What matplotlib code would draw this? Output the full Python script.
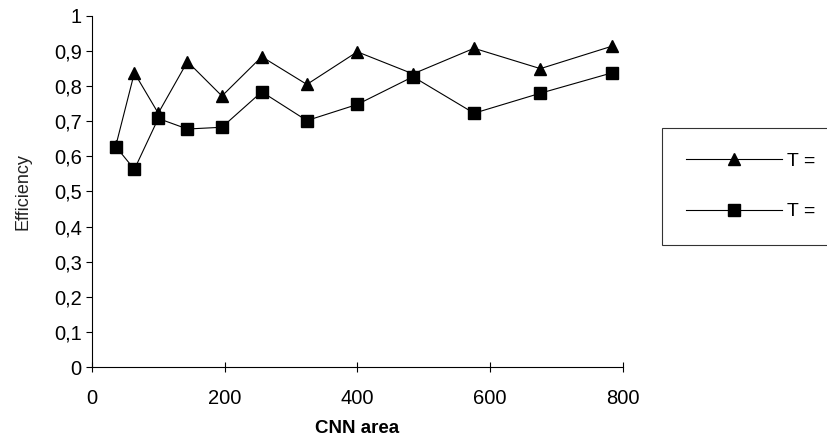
import matplotlib
matplotlib.use("Agg")
import matplotlib.pyplot as plt
from matplotlib.ticker import FuncFormatter

# data
cnn_area = [36, 64, 100, 144, 196, 256, 324, 400, 484, 576, 676, 784]
eff_triangle = [0.63, 0.838, 0.723, 0.870, 0.772, 0.884, 0.805, 0.898, 0.835, 0.908, 0.850, 0.914]
eff_square = [0.628, 0.563, 0.708, 0.678, 0.683, 0.784, 0.702, 0.748, 0.827, 0.723, 0.780, 0.838]
series_labels = ["T =", "T ="]
x_ticks = [0, 200, 400, 600, 800]
y_ticks = [0, 0.1, 0.2, 0.3, 0.4, 0.5, 0.6, 0.7, 0.8, 0.9, 1.0]

plt.rcParams['font.family'] = ['Liberation Sans', 'DejaVu Sans']

fig = plt.figure(figsize=(8.28, 4.44), dpi=100)
ax = fig.add_axes([0.111, 0.1734, 0.641, 0.7906])

ax.plot(cnn_area, eff_triangle, color='black', lw=0.8, marker='^', markersize=9,
        label=series_labels[0])
ax.plot(cnn_area, eff_square, color='black', lw=0.8, marker='s', markersize=8,
        label=series_labels[1])

ax.set_xlim(0, 800)
ax.set_ylim(0, 1)
ax.set_xticks(x_ticks)
ax.set_yticks(y_ticks)

def yfmt(v, pos):
    if abs(v) < 1e-9:
        return "0"
    if abs(v - 1) < 1e-9:
        return "1"
    return ("%.1f" % v).replace(".", ",")

ax.yaxis.set_major_formatter(FuncFormatter(yfmt))
for s in ['top', 'right']:
    ax.spines[s].set_visible(False)
for s in ['left', 'bottom']:
    ax.spines[s].set_linewidth(0.8)
ax.tick_params(axis='y', direction='out', length=4.3, width=0.8, pad=3, labelsize=14.5)
ax.tick_params(axis='x', direction='inout', length=7, width=0.8, pad=12, labelsize=14.5)

ax.set_xlabel("CNN area", fontsize=13.5, fontweight='bold', labelpad=9)
ax.set_ylabel("Efficiency", fontsize=13, labelpad=16, color='#222222')

leg = fig.legend(loc='upper left', bbox_to_anchor=(0.7995, 0.712), fontsize=14,
                 frameon=True, fancybox=False, edgecolor='black', handlelength=4.9,
                 labelspacing=1.7, borderpad=1.25, handletextpad=0.3, borderaxespad=0)
leg.get_frame().set_linewidth(0.8)

fig.savefig("out.png", dpi=100)
